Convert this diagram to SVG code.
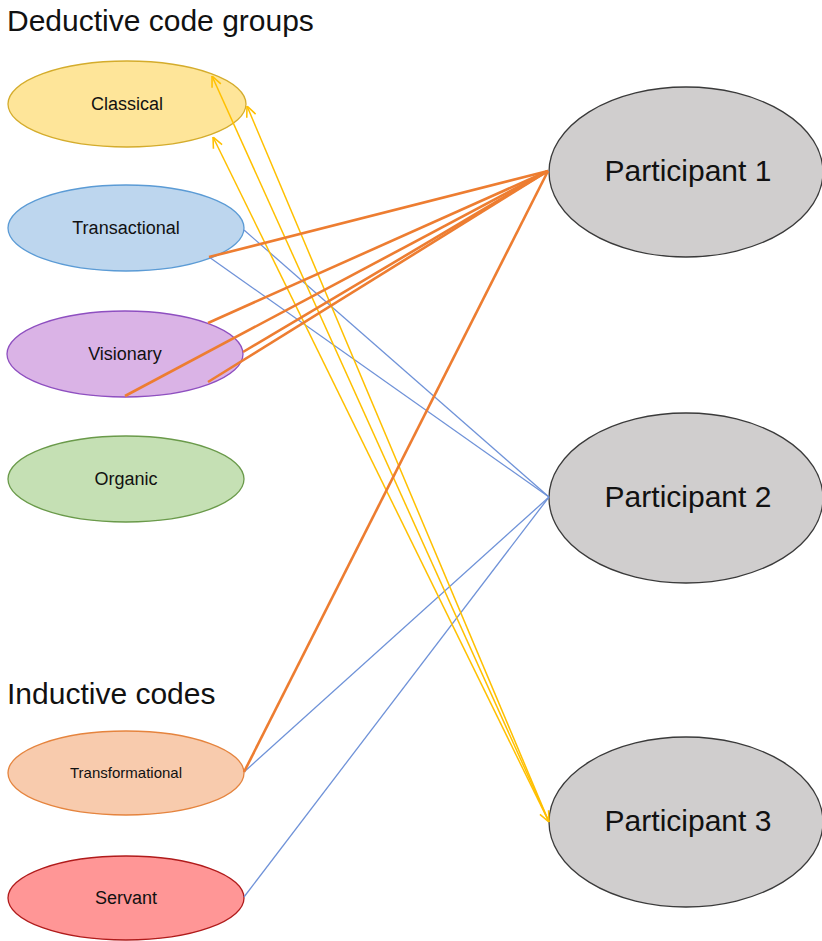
<svg xmlns="http://www.w3.org/2000/svg" width="822" height="941" viewBox="0 0 822 941">
<style>
text{font-family:"Liberation Sans",Arial,sans-serif;fill:#111111}
.t{font-size:30px}
.n{font-size:18px;text-anchor:middle}
.s{font-size:15px;text-anchor:middle}
.p{font-size:30px;text-anchor:middle}
.o{stroke:#ED7D31;stroke-width:2.6;fill:none}
.b{stroke:#6F92D8;stroke-width:1.3;fill:none}
.y{stroke:#FFC000;stroke-width:1.5;fill:none}
ellipse{stroke-width:1.3}
</style>
<defs>
<marker id="ah" viewBox="0 0 10 10" refX="10" refY="5" markerWidth="12" markerHeight="12" markerUnits="userSpaceOnUse" orient="auto-start-reverse">
<path d="M1,1 L10,5 L1,9" fill="none" stroke="#FFC000" stroke-width="1.3"/>
</marker>
</defs>
<rect width="822" height="941" fill="#ffffff"/>
<text class="t" x="7" y="31">Deductive code groups</text>
<text class="t" x="7" y="704">Inductive codes</text>
<g id="classical"><ellipse cx="127" cy="104" rx="119" ry="43" fill="#FEE599" stroke="#D4AC2C"/><text class="n" x="127" y="110">Classical</text></g>
<g id="transactional"><ellipse cx="126" cy="228" rx="118" ry="43" fill="#BDD6EE" stroke="#5B9BD5"/><text class="n" x="126" y="234">Transactional</text></g>
<g id="visionary"><ellipse cx="125" cy="354" rx="118" ry="43" fill="#DAB3E6" stroke="#8E4FC0"/><text class="n" x="125" y="360">Visionary</text></g>
<g id="organic"><ellipse cx="126" cy="479" rx="118" ry="43" fill="#C5E0B4" stroke="#6A9A4A"/><text class="n" x="126" y="485">Organic</text></g>
<g id="transformational"><ellipse cx="126" cy="773" rx="118" ry="42" fill="#F8CBAD" stroke="#E5843E"/><text class="s" x="126" y="778">Transformational</text></g>
<g id="servant"><ellipse cx="126" cy="898" rx="118" ry="42" fill="#FF9696" stroke="#B01B1B"/><text class="n" x="126" y="904">Servant</text></g>
<g id="participant1"><ellipse cx="686" cy="172" rx="137" ry="85" fill="#D0CECE" stroke="#3A3A3A"/><text class="p" x="688" y="181">Participant 1</text></g>
<g id="participant2"><ellipse cx="686" cy="498" rx="137" ry="85" fill="#D0CECE" stroke="#3A3A3A"/><text class="p" x="688" y="507">Participant 2</text></g>
<g id="participant3"><ellipse cx="686" cy="822" rx="137" ry="85" fill="#D0CECE" stroke="#3A3A3A"/><text class="p" x="688" y="831">Participant 3</text></g>
<g id="connectors">
<path class="b" d="M244,230 L549,497"/>
<path class="b" d="M209,257 L549,497"/>
<path class="b" d="M244,772 L549,497"/>
<path class="b" d="M244,897 L549,497"/>
<path class="y" d="M212,76 L549,822" marker-start="url(#ah)"/>
<path class="y" d="M247,106 L549,822" marker-start="url(#ah)"/>
<path class="y" d="M213,137 L549,822" marker-start="url(#ah)" marker-end="url(#ah)"/>
<path class="o" d="M209,257 L548,171"/>
<path class="o" d="M208,323 L548,171"/>
<path class="o" d="M125,396 L548,171"/>
<path class="o" d="M243,352 L548,171"/>
<path class="o" d="M208,382 L548,171"/>
<path class="o" d="M244,772 L548,171"/>
</g>
</svg>
